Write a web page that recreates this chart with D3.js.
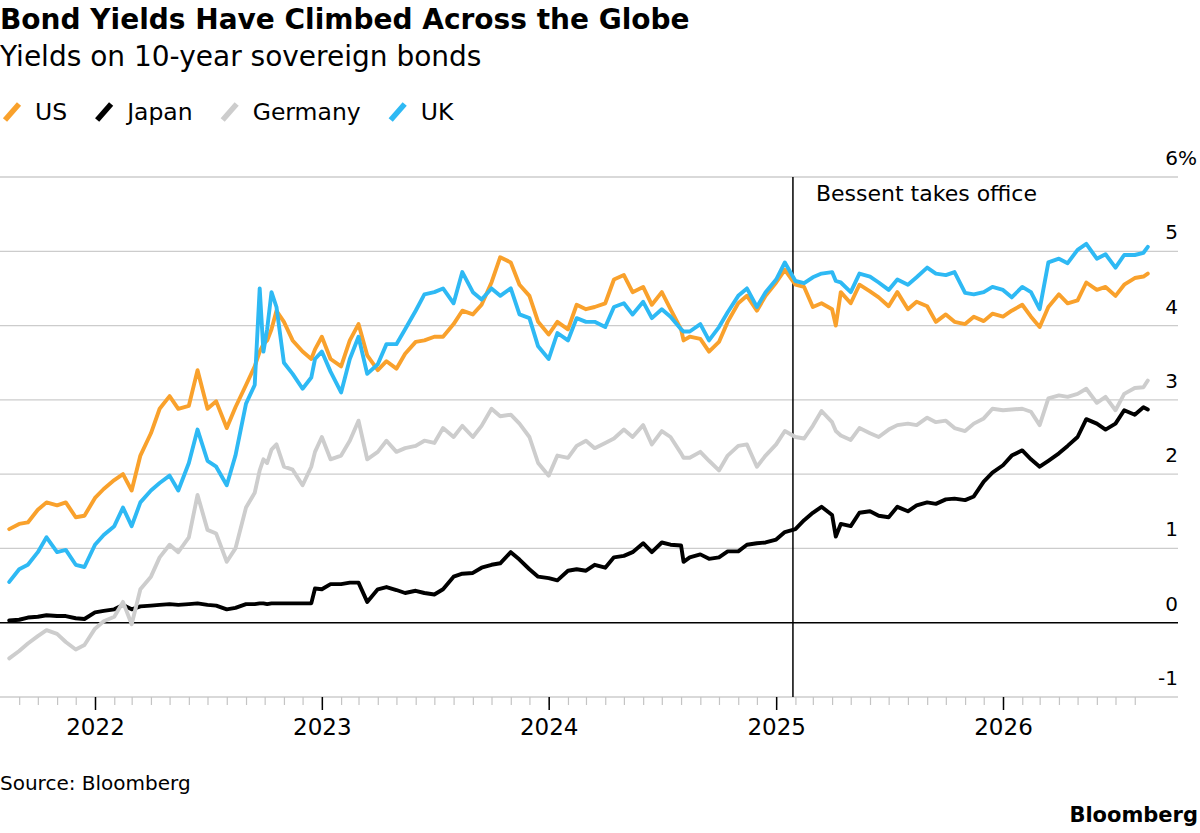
<!DOCTYPE html>
<html lang="en">
<head>
<meta charset="UTF-8">
<title>Bond Yields Have Climbed Across the Globe</title>
<script src="https://cdn.jsdelivr.net/npm/d3@7"></script>
<style>
  body { margin: 0; background: #fff; }
  svg { display: block; font-family: "DejaVu Sans", sans-serif; }
</style>
</head>
<body>
<svg id="mainsvg" width="1200" height="833"></svg>
<script>
// semi-monthly readings of 10-year yields (%), with a few extra days around sharp moves
const dates = [
  "2021-08-16","2021-09-01","2021-09-15","2021-10-01","2021-10-15","2021-11-01","2021-11-15","2021-12-01","2021-12-15",
  "2022-01-01","2022-01-15","2022-02-01","2022-02-15","2022-03-01","2022-03-15","2022-04-01","2022-04-15","2022-05-01","2022-05-15",
  "2022-06-01","2022-06-15","2022-07-01","2022-07-15","2022-08-01","2022-08-15","2022-09-01","2022-09-15","2022-09-23","2022-09-29",
  "2022-10-05","2022-10-12","2022-10-20","2022-11-01","2022-11-15","2022-12-01","2022-12-15","2022-12-21",
  "2023-01-01","2023-01-15","2023-02-01","2023-02-15","2023-03-01","2023-03-15","2023-04-01","2023-04-15","2023-05-01","2023-05-15",
  "2023-06-01","2023-06-15","2023-07-01","2023-07-15","2023-08-01","2023-08-15","2023-09-01","2023-09-15","2023-10-01","2023-10-15",
  "2023-11-01","2023-11-15","2023-12-01","2023-12-15",
  "2024-01-01","2024-01-15","2024-02-01","2024-02-15","2024-03-01","2024-03-15","2024-04-01","2024-04-15","2024-05-01","2024-05-15",
  "2024-06-01","2024-06-15","2024-07-01","2024-07-15","2024-08-01","2024-08-05","2024-08-15","2024-09-01","2024-09-15","2024-10-01",
  "2024-10-15","2024-11-01","2024-11-15","2024-12-01","2024-12-15",
  "2025-01-01","2025-01-15","2025-02-01","2025-02-15","2025-03-01","2025-03-15","2025-04-01","2025-04-07","2025-04-15","2025-05-01",
  "2025-05-15","2025-06-01","2025-06-15","2025-07-01","2025-07-15","2025-08-01","2025-08-15","2025-09-01","2025-09-15","2025-10-01",
  "2025-10-15","2025-11-01","2025-11-15","2025-12-01","2025-12-15",
  "2026-01-01","2026-01-15","2026-02-01","2026-02-15","2026-03-01","2026-03-15","2026-04-01","2026-04-15","2026-05-01","2026-05-15",
  "2026-06-01","2026-06-15","2026-07-01","2026-07-15","2026-08-01","2026-08-15","2026-08-22"
];

const us = [
  1.26, 1.33, 1.35, 1.52, 1.62, 1.58, 1.62, 1.42, 1.44,
  1.68, 1.80, 1.92, 2.00, 1.78, 2.25, 2.55, 2.88, 3.05, 2.88, 2.92, 3.40, 2.88, 2.98, 2.62, 2.90, 3.20, 3.45, 3.65, 3.75,
  3.80, 3.95, 4.20, 4.05, 3.80, 3.65, 3.55, 3.68,
  3.85, 3.55, 3.45, 3.80, 4.02, 3.60, 3.40, 3.52, 3.42, 3.62, 3.78, 3.80, 3.85, 3.85, 4.02, 4.20, 4.15, 4.28, 4.58, 4.92,
  4.85, 4.55, 4.40, 4.05,
  3.88, 4.05, 3.95, 4.28, 4.22, 4.25, 4.30, 4.62, 4.68, 4.45, 4.52, 4.28, 4.45, 4.22, 3.95, 3.80, 3.85, 3.82, 3.65, 3.78,
  4.05, 4.30, 4.40, 4.20, 4.40,
  4.58, 4.75, 4.55, 4.52, 4.25, 4.30, 4.22, 4.00, 4.45, 4.30, 4.55, 4.46, 4.38, 4.26, 4.45, 4.22, 4.32, 4.26, 4.05, 4.15,
  4.05, 4.02, 4.12, 4.06, 4.16,
  4.12, 4.20, 4.28, 4.12, 3.98, 4.25, 4.42, 4.30, 4.34, 4.58, 4.48, 4.52, 4.40, 4.55, 4.64, 4.66, 4.70
];

const japan = [
  0.03, 0.04, 0.07, 0.08, 0.10, 0.09, 0.09, 0.06, 0.05,
  0.14, 0.16, 0.18, 0.24, 0.18, 0.22, 0.23, 0.24, 0.25, 0.24, 0.25, 0.26, 0.24, 0.23, 0.18, 0.20, 0.25, 0.25, 0.26, 0.26,
  0.25, 0.26, 0.26, 0.26, 0.26, 0.26, 0.26, 0.46,
  0.45, 0.52, 0.52, 0.54, 0.54, 0.28, 0.45, 0.48, 0.44, 0.40, 0.43, 0.40, 0.38, 0.45, 0.62, 0.66, 0.67, 0.74, 0.78, 0.80,
  0.95, 0.85, 0.72, 0.62,
  0.60, 0.57, 0.70, 0.72, 0.70, 0.78, 0.74, 0.88, 0.90, 0.95, 1.07, 0.95, 1.08, 1.05, 1.04, 0.82, 0.88, 0.92, 0.86, 0.88,
  0.96, 0.96, 1.05, 1.07, 1.08,
  1.12, 1.22, 1.26, 1.38, 1.48, 1.56, 1.45, 1.16, 1.33, 1.30, 1.48, 1.50, 1.44, 1.42, 1.56, 1.50, 1.58, 1.62, 1.60, 1.66,
  1.67, 1.65, 1.70, 1.90, 2.02,
  2.12, 2.25, 2.32, 2.20, 2.10, 2.18, 2.28, 2.38, 2.50, 2.74, 2.68, 2.60, 2.68, 2.86, 2.80, 2.90, 2.87
];

const germany = [
  -0.48, -0.38, -0.28, -0.18, -0.10, -0.15, -0.26, -0.36, -0.30,
  -0.08, 0.02, 0.08, 0.28, -0.02, 0.45, 0.62, 0.88, 1.05, 0.95, 1.15, 1.72, 1.25, 1.20, 0.82, 1.00, 1.55, 1.75, 2.05, 2.20,
  2.15, 2.33, 2.40, 2.10, 2.06, 1.85, 2.10, 2.30,
  2.50, 2.20, 2.25, 2.45, 2.72, 2.20, 2.30, 2.45, 2.30, 2.35, 2.38, 2.45, 2.42, 2.62, 2.50, 2.65, 2.50, 2.65, 2.88, 2.78,
  2.80, 2.68, 2.50, 2.15,
  1.98, 2.25, 2.22, 2.38, 2.45, 2.35, 2.42, 2.48, 2.60, 2.50, 2.66, 2.40, 2.58, 2.50, 2.28, 2.22, 2.22, 2.30, 2.18, 2.05,
  2.25, 2.38, 2.40, 2.10, 2.25,
  2.40, 2.58, 2.50, 2.48, 2.65, 2.85, 2.70, 2.58, 2.52, 2.46, 2.62, 2.55, 2.50, 2.60, 2.66, 2.68, 2.66, 2.76, 2.70, 2.72,
  2.62, 2.58, 2.68, 2.75, 2.88,
  2.86, 2.87, 2.88, 2.84, 2.66, 3.02, 3.06, 3.04, 3.08, 3.15, 2.96, 3.04, 2.86, 3.08, 3.16, 3.17, 3.26
];

const uk = [
  0.55, 0.72, 0.78, 0.95, 1.15, 0.95, 0.98, 0.78, 0.75,
  1.05, 1.18, 1.30, 1.55, 1.30, 1.62, 1.78, 1.88, 1.98, 1.78, 2.15, 2.60, 2.18, 2.10, 1.85, 2.25, 2.95, 3.20, 4.50, 3.65,
  3.95, 4.45, 4.25, 3.50, 3.35, 3.15, 3.30, 3.55,
  3.65, 3.38, 3.10, 3.55, 3.85, 3.35, 3.48, 3.75, 3.75, 3.95, 4.20, 4.42, 4.45, 4.50, 4.30, 4.72, 4.45, 4.35, 4.50, 4.40,
  4.50, 4.15, 4.10, 3.72,
  3.55, 3.90, 3.80, 4.10, 4.05, 4.05, 3.98, 4.25, 4.30, 4.15, 4.32, 4.10, 4.22, 4.12, 3.95, 3.92, 3.92, 4.02, 3.80, 3.98,
  4.18, 4.40, 4.50, 4.25, 4.45,
  4.62, 4.85, 4.60, 4.57, 4.65, 4.70, 4.72, 4.60, 4.58, 4.45, 4.70, 4.66, 4.58, 4.48, 4.62, 4.55, 4.65, 4.78, 4.70, 4.68,
  4.72, 4.44, 4.42, 4.45, 4.52,
  4.48, 4.38, 4.52, 4.45, 4.22, 4.85, 4.90, 4.84, 5.02, 5.10, 4.90, 4.96, 4.78, 4.95, 4.95, 4.98, 5.06
];

const seriesNames = ["US", "Japan", "Germany", "UK"];
const seriesColors = ["#f9a12c", "#000000", "#cdcdcd", "#2eb9f4"];
const yTicks = [-1, 0, 1, 2, 3, 4, 5, 6];
const yearTicks = ["2022", "2023", "2024", "2025", "2026"];
const eventDate = "2025-01-28";
const eventLabel = "Bessent takes office";

const svg = d3.select('#mainsvg');
const parse = d3.utcParse('%Y-%m-%d');
const plotRight = 1178;

const x = d3.scaleUtc()
  .domain([parse('2022-01-01'), parse('2026-01-01')])
  .range([95, 1003]);
const y = d3.scaleLinear().domain([-1, 6]).range([697, 177]);

const valuesByName = { US: us, Japan: japan, Germany: germany, UK: uk };
const series = seriesNames.map((name, i) => ({
  name: name,
  color: seriesColors[i],
  points: dates.map((d, j) => ({ date: parse(d), value: valuesByName[name][j] }))
}));
series.forEach(s => {
  if (valuesByName[s.name].length !== dates.length) console.error('length mismatch', s.name);
});

// title block
svg.append('text').attr('x', 0).attr('y', 29)
  .attr('font-size', 28).attr('font-weight', 'bold').attr('fill', '#000')
  .text('Bond Yields Have Climbed Across the Globe');
svg.append('text').attr('x', 0).attr('y', 66)
  .attr('font-size', 28).attr('fill', '#000')
  .text('Yields on 10-year sovereign bonds');

// legend
const legend = svg.append('g').attr('class', 'legend');
let lx = 2;
series.forEach(s => {
  legend.append('line')
    .attr('x1', lx + 3).attr('y1', 120).attr('x2', lx + 17).attr('y2', 104)
    .attr('stroke', s.color).attr('stroke-width', 5.5);
  const t = legend.append('text')
    .attr('x', lx + 33).attr('y', 120)
    .attr('font-size', 23.5).attr('fill', '#000')
    .text(s.name);
  lx = lx + 33 + t.node().getComputedTextLength() + 27;
});

// horizontal gridlines and y labels
const grid = svg.append('g').attr('class', 'grid');
grid.selectAll('line')
  .data(yTicks.filter(v => v !== 0))
  .join('line')
  .attr('x1', 0).attr('x2', plotRight)
  .attr('y1', d => y(d)).attr('y2', d => y(d))
  .attr('stroke', '#cccccc').attr('stroke-width', 1.3);

const yLabels = svg.append('g').attr('class', 'ylabels')
  .attr('font-size', 20).attr('fill', '#000');
yLabels.selectAll('text.num')
  .data(yTicks)
  .join('text')
  .attr('class', 'num')
  .attr('x', plotRight).attr('y', d => y(d) - 12)
  .attr('text-anchor', 'end')
  .text(d => d);
yLabels.append('text')
  .attr('x', plotRight).attr('y', y(6) - 12)
  .text('%');

// x axis: monthly minor ticks, yearly labelled ticks
const minorTicks = d3.utcMonth.range(parse('2021-09-01'), parse('2026-09-01'));
const minorAxis = d3.axisBottom(x).tickValues(minorTicks).tickSize(8).tickFormat('');
const gMinor = svg.append('g').attr('transform', `translate(0,${y(-1)})`).call(minorAxis);
gMinor.select('.domain').remove();
gMinor.selectAll('.tick line').attr('stroke', '#c4c4c4').attr('stroke-width', 1.2);

const majorAxis = d3.axisBottom(x)
  .tickValues(yearTicks.map(t => parse(t + '-01-01')))
  .tickSize(13).tickPadding(9)
  .tickFormat((d, i) => yearTicks[i]);
const gMajor = svg.append('g').attr('transform', `translate(0,${y(-1)})`).call(majorAxis);
gMajor.select('.domain').remove();
gMajor.selectAll('.tick line').attr('stroke', '#000').attr('stroke-width', 1.5);
gMajor.selectAll('.tick text')
  .attr('font-family', '"DejaVu Sans", sans-serif')
  .attr('font-size', 23).attr('fill', '#000');

// event marker
const ex = x(parse(eventDate));
svg.append('line')
  .attr('x1', ex).attr('x2', ex).attr('y1', y(6)).attr('y2', y(-1))
  .attr('stroke', '#000').attr('stroke-width', 1.5);
svg.append('text')
  .attr('x', ex + 23).attr('y', 201)
  .attr('font-size', 22).attr('fill', '#000')
  .text(eventLabel);

// zero line
svg.append('line')
  .attr('x1', 0).attr('x2', plotRight).attr('y1', y(0)).attr('y2', y(0))
  .attr('stroke', '#000').attr('stroke-width', 1.5);

// series lines
const line = d3.line().x(d => x(d.date)).y(d => y(d.value));
svg.append('g').attr('class', 'series')
  .selectAll('path')
  .data(series)
  .join('path')
  .attr('d', d => line(d.points))
  .attr('fill', 'none')
  .attr('stroke', d => d.color)
  .attr('stroke-width', 3.9)
  .attr('stroke-linejoin', 'round')
  .attr('stroke-linecap', 'round');

// footer
svg.append('text').attr('x', 0).attr('y', 790)
  .attr('font-size', 20).attr('fill', '#000')
  .text('Source: Bloomberg');
svg.append('text').attr('x', 1198).attr('y', 822)
  .attr('text-anchor', 'end')
  .attr('font-size', 21).attr('font-weight', 'bold').attr('fill', '#000')
  .text('Bloomberg');
</script>
</body>
</html>
